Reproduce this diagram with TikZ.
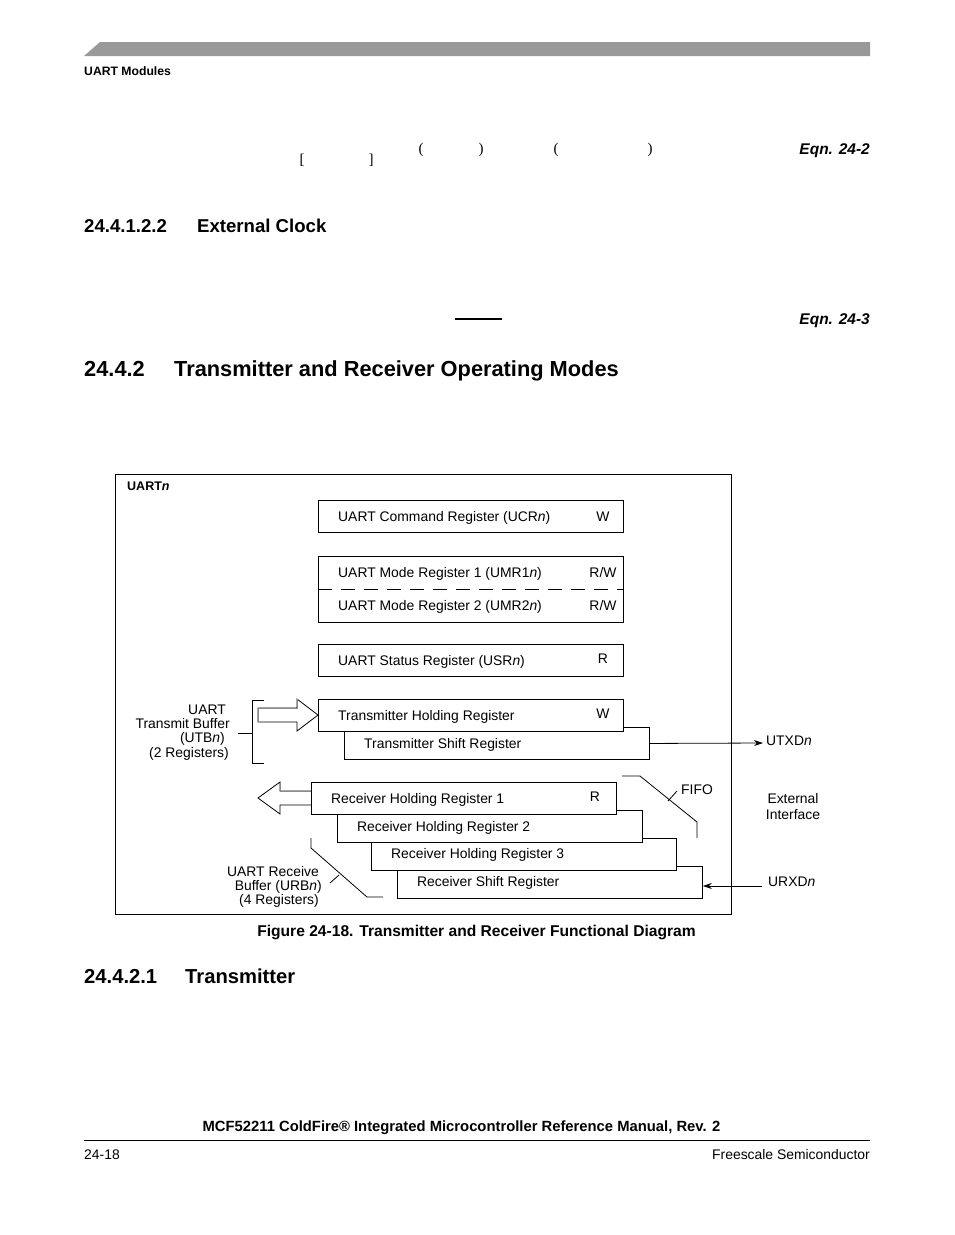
\documentclass[tikz,border=0pt]{standalone}
\usepackage{fontspec}
\setmainfont{Liberation Sans}
\newfontfamily\glyphfont{Liberation Serif}
\usetikzlibrary{arrows.meta}

\tikzset{
  regbox/.style={draw, fill=white, line width=0.9pt, minimum width=305pt,
    minimum height=32pt, anchor=north west, inner sep=0pt},
  regtext/.style={anchor=base west, inner sep=0pt, font=\fontsize{13.9}{16}\selectfont},
  acctext/.style={anchor=base, inner sep=0pt, font=\fontsize{13.9}{16}\selectfont},
  sidetext/.style={anchor=base east, inner sep=0pt, font=\fontsize{13.9}{16}\selectfont},
  headtext/.style={anchor=base west, inner sep=0pt, font=\bfseries\fontsize{21.8}{24}\selectfont},
  subhead/.style={anchor=base west, inner sep=0pt, font=\bfseries\fontsize{18.6}{21}\selectfont},
  eqntext/.style={anchor=base east, inner sep=0pt, font=\bfseries\itshape\fontsize{15.5}{18}\selectfont},
  glyph/.style={inner sep=0pt, font=\glyphfont\fontsize{15}{17}\selectfont},
  wire/.style={line width=0.8pt},
}

\begin{document}
\begin{tikzpicture}[x=1pt,y=-1pt]
        \useasboundingbox (0,0) rectangle (954,1235);

        % page header
        \fill[black!40] (84,56)--(100,42)--(870,42)--(870,56)--cycle;
        \node[anchor=base west, inner sep=0pt, font=\bfseries\fontsize{12.2}{14}\selectfont]
            (hdr) at (84,75.5) {UART Modules};

        % what is left of the equations
        \node[glyph] (g1) at (302,160) {[};
        \node[glyph] (g2) at (371,160) {]};
        \node[glyph] (g3) at (421,150) {(};
        \node[glyph] (g4) at (481,150) {)};
        \node[glyph] (g5) at (556,150) {(};
        \node[glyph] (g6) at (650,150) {)};
        \node[eqntext] (eqa) at (870,154.5) {Eqn. 24-2};

        \node[subhead] (secclk) at (84,232) {24.4.1.2.2};
        \node[subhead] (ttlclk) at (197,232) {External Clock};

        \draw[line width=1.6pt] (455,319)--(502,319);
        \node[eqntext] (eqb) at (870,324.5) {Eqn. 24-3};

        \node[headtext] (secmod) at (84,376) {24.4.2};
        \node[headtext] (ttlmod) at (174,376) {Transmitter and Receiver Operating Modes};

        % frame
        \draw[line width=0.9pt] (115,474) rectangle (731,914);
        \node[anchor=base west, inner sep=0pt, font=\bfseries\fontsize{12.5}{14}\selectfont]
            (uart) at (127,490) {UART\textit{n}};

        % control and status registers
        \node[regbox] (ucr) at (318,500) {};
        \node[regtext] at (338,521) {UART Command Register (UCR\textit{n})};
        \node[acctext] at (603,521) {W};

        \node[regbox, minimum height=66pt] (umr) at (318,556) {};
        \draw[dashed, dash pattern=on 14pt off 9pt, line width=0.9pt] (umr.west)--(umr.east);
        \node[regtext] at (338,577) {UART Mode Register 1 (UMR1\textit{n})};
        \node[acctext] at (603,577) {R/W};
        \node[regtext] at (338,610) {UART Mode Register 2 (UMR2\textit{n})};
        \node[acctext] at (603,610) {R/W};

        \node[regbox] (usr) at (318,644) {};
        \node[regtext] at (338,665) {UART Status Register (USR\textit{n})};
        \node[acctext] at (603,663) {R};

        % transmitter
        \node[regbox] (tsr) at (344,727) {};
        \node[regtext] at (364,748) {Transmitter Shift Register};
        \node[regbox] (thr) at (318,699) {};
        \node[regtext] at (338,720) {Transmitter Holding Register};
        \node[acctext] at (603,718) {W};

        \draw[wire] (258,708)--(297,708)--(297,699)--(318,715)--(297,731)--(297,722)--(258,722)--cycle;
        \draw[black!45, wire] (258,722)--(258,708)--(297,708)--(297,699);

        \draw[wire] (264,700)--(252,700)--(252,763)--(264,763);
        \draw[wire] (238,733)--(252,733);
        \node[sidetext] at (226,714) {UART};
        \node[sidetext] at (230,728) {Transmit Buffer};
        \node[sidetext] at (225,742) {(UTB\textit{n})};
        \node[sidetext] at (229,757) {(2 Registers)};

        \coordinate (txout) at (763,743);
        \draw[wire, -{Stealth[length=9pt,width=6pt]}] (tsr.east)--(txout);
        \node[regtext] (utxd) at (766,745) {UTXD\textit{n}};

        % receiver
        \node[regbox] (rsr) at (397,866) {};
        \node[regtext] at (417,886) {Receiver Shift Register};
        \node[regbox] (rhr3) at (371,838) {};
        \node[regtext] at (391,858) {Receiver Holding Register 3};
        \node[regbox] (rhr2) at (337,810) {};
        \node[regtext] at (357,831) {Receiver Holding Register 2};
        \node[regbox] (rhr1) at (311,782) {};
        \node[regtext] at (331,803) {Receiver Holding Register 1};
        \node[acctext] at (595,801) {R};

        \draw[wire] (311,791)--(280,791)--(280,782)--(258,798)--(280,814)--(280,805)--(311,805);
        \draw[black!45, wire] (280,782)--(280,791)--(311,791);

        \draw[wire] (622,776)--(640,776)--(697,822)--(697,838);
        \draw[wire] (668,801)--(677,791);
        \node[regtext] (fifo) at (681,794) {FIFO};

        \draw[wire] (311,838)--(311,848)--(367,897)--(383,897);
        \draw[wire] (330,883)--(339,875);
        \node[sidetext] at (319,876) {UART Receive};
        \node[sidetext] at (322,890) {Buffer (URB\textit{n})};
        \node[sidetext] at (319,904) {(4 Registers)};

        \node[regtext, anchor=base] (ext) at (793,803) {External};
        \node[regtext, anchor=base] (intf) at (793,819) {Interface};

        \coordinate (rxin) at (762,886);
        \draw[wire, -{Stealth[length=9pt,width=6pt]}] (rxin)--(rxin -| rsr.east);
        \node[regtext] (urxd) at (768,886) {URXD\textit{n}};

        % caption and next section
        \node[anchor=base, inner sep=0pt, font=\bfseries\fontsize{15.6}{18}\selectfont]
            (cap) at (476.5,936.5) {Figure 24-18. Transmitter and Receiver Functional Diagram};
        \node[subhead, font=\bfseries\fontsize{20.2}{23}\selectfont] (sectx) at (84,983) {24.4.2.1};
        \node[subhead, font=\bfseries\fontsize{20.2}{23}\selectfont] (ttltx) at (185,983) {Transmitter};

        % page footer
        \node[anchor=base, inner sep=0pt, font=\bfseries\fontsize{14.8}{17}\selectfont]
            (ftr) at (461.5,1131) {MCF52211 ColdFire® Integrated Microcontroller Reference Manual, Rev. 2};
        \draw[line width=1pt] (84,1140)--(870,1140);
        \node[anchor=base west, inner sep=0pt, font=\fontsize{13.9}{16}\selectfont] (pg) at (84,1159) {24-18};
        \node[anchor=base east, inner sep=0pt, font=\fontsize{13.9}{16}\selectfont] (co) at (870,1159) {Freescale Semiconductor};
\end{tikzpicture}
\end{document}
